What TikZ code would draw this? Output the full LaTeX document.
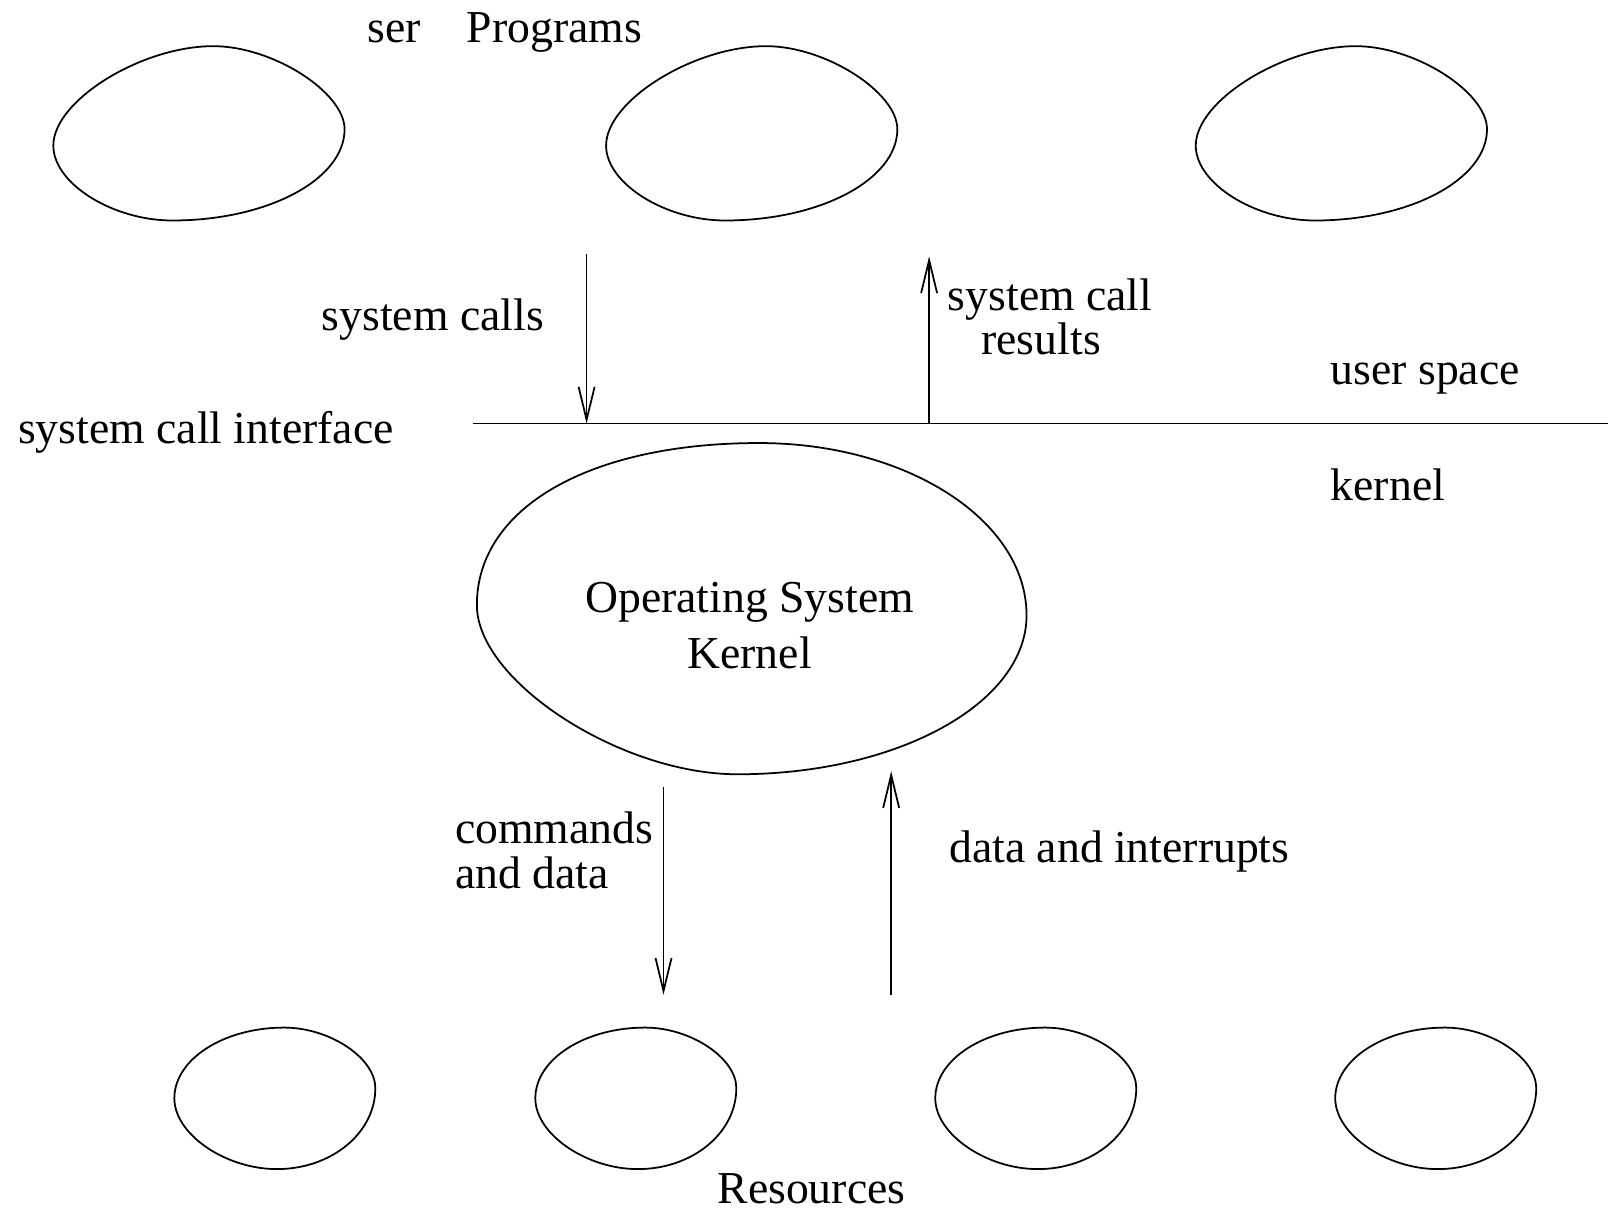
\documentclass[tikz,border=0pt]{standalone}
\usepackage{fontspec}
\setmainfont{Liberation Serif}
\usetikzlibrary{arrows.meta}

\begin{document}
\begin{tikzpicture}
		[x=0.010255cm, y=-0.010255cm,
			font=\fontsize{13pt}{12.7pt}\selectfont,
			blob/.style ={draw, line width=0.5pt},
			line/.style ={draw, line width=0.5pt, -{Straight Barb[length=3.3mm, width=1.6mm]}},
			label/.style ={inner sep=0pt, anchor=base west},
			progblob/.pic ={\draw[blob] (0,97) .. controls (0,53) and (86,0) .. (156,0)
				.. controls (214,0) and (284,45) .. (284,81)
				.. controls (284,130) and (209,170) .. (116,170)
				.. controls (58,170) and (0,134) .. cycle;
				\coordinate (-c) at (142,85);},
			resblob/.pic ={\draw[blob] (0,69) .. controls (0,31) and (48,0) .. (107,0)
				.. controls (152,0) and (196,30) .. (196,59)
				.. controls (196,103) and (153,138) .. (100,138)
				.. controls (50,138) and (0,104) .. cycle;
				\coordinate (-c) at (98,69);}]
		\useasboundingbox (0,0) rectangle (1568,1180);
		% user programs
		\node[label] (progs) at (358,41) {ser\quad Programs};
		\foreach \x/\n in {52/1, 591/2, 1166/3}
			\pic (prog\n) at (\x,45) {progblob};
		% interface line
		\coordinate (ifL) at (461,413);
		\coordinate (ifR) at (1568,413);
		\draw[line width=0.5pt] (ifL) -- (ifR);
		\node[label] (iface) at (17,432) {system call interface};
		\node[label] (user) at (1297,375) {user space};
		\node[label] (kspace) at (1297,488) {kernel};
		% calls and results
		\coordinate (callA) at (572,248);
		\coordinate (resA) at (906,250);
		\draw[line] (callA) -- (callA |- ifL);
		\draw[line] (resA |- ifL) -- (resA);
		\node[label] (calls) at (313,322) {system calls};
		\node[inner sep=0pt, align=center] (results) at (1024,309) {system call\\results\hspace*{0.18cm}};
		% kernel
		\draw[blob, shift={(465,432)}] (0,158) .. controls (0,63) and (110,0) .. (275,0)
			.. controls (419,0) and (536,75) .. (536,168)
			.. controls (536,254) and (410,323) .. (254,323)
			.. controls (140,323) and (0,232) .. cycle;
		\node[inner sep=0pt, align=center] (kernel) at (731,610) {Operating System\\[3pt]Kernel};
		% commands and interrupts
		\coordinate (cmdA) at (647,767);
		\coordinate (cmdB) at (647,970);
		\coordinate (irqA) at (869,970);
		\coordinate (irqB) at (869,752);
		\draw[line] (cmdA) -- (cmdB);
		\draw[line] (irqA) -- (irqB);
		\node[inner sep=0pt, align=left, anchor=west] (cmds) at (443,829) {commands\\and data};
		\node[label] (irqs) at (925,841) {data and interrupts};
		% resources
		\foreach \x/\n in {170/1, 522/2, 912/3, 1302/4}
			\pic (res\n) at (\x,1002) {resblob};
		\node[label] (resources) at (699,1174) {Resources};
	\end{tikzpicture}
\end{document}
